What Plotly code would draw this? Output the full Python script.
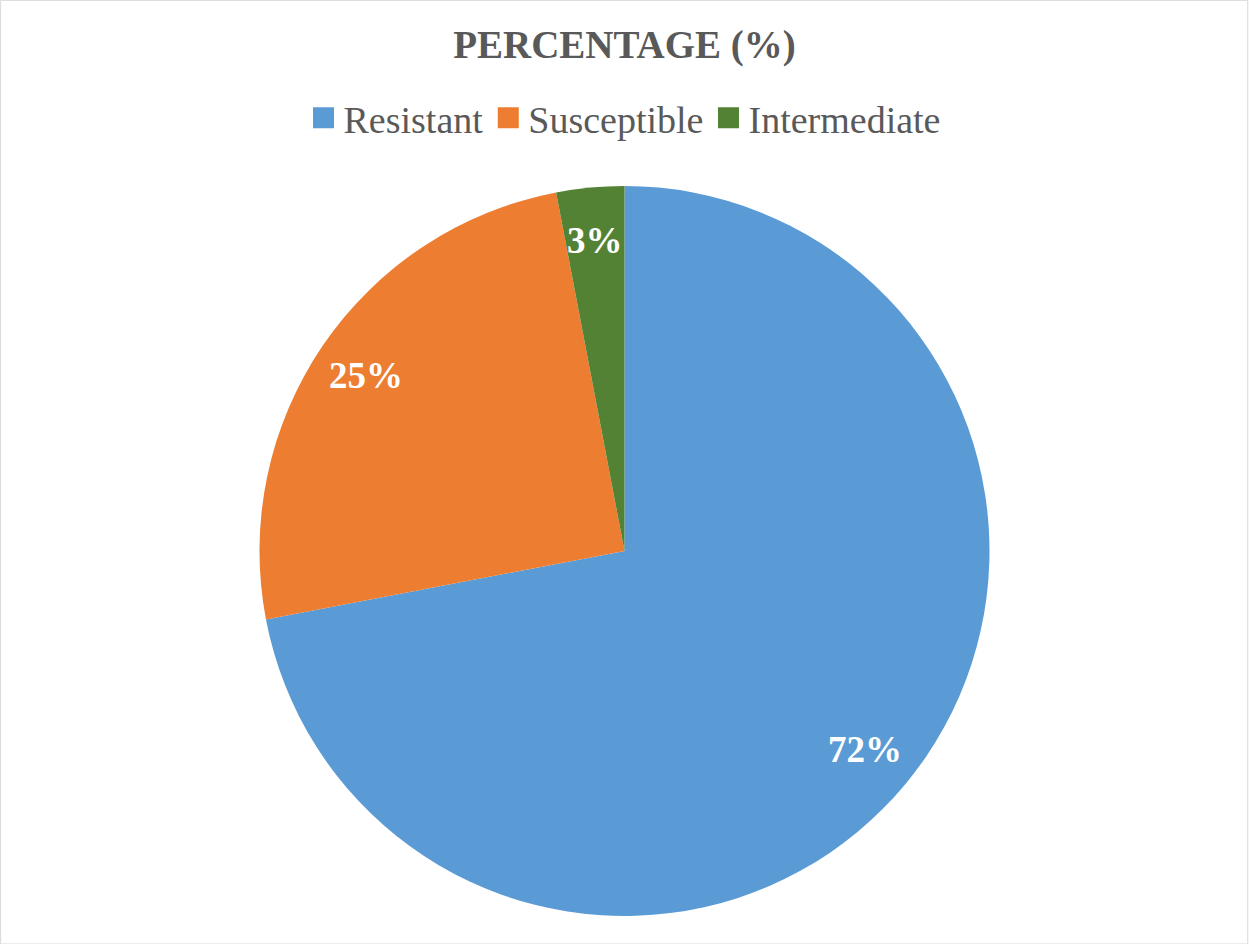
import math
import plotly.graph_objects as go

# Resistance profile shares (percent)
categories = ["Resistant", "Susceptible", "Intermediate"]
values = [72, 25, 3]
colors = ["#5B9BD5", "#ED7D31", "#548235"]

W, H = 1249, 944
M_T, M_B, M_L, M_R = 186, 28, 0, 0
plot_w = W - M_L - M_R
plot_h = H - M_T - M_B
radius_px = min(plot_w, plot_h) / 2
LABEL_R = 0.855  # data labels sit near the outer edge of each slice

SERIF = "Liberation Serif, Times New Roman, serif"
GREY = "#595959"

fig = go.Figure()
fig.add_trace(
    go.Pie(
        labels=categories,
        values=values,
        sort=False,
        direction="clockwise",
        rotation=0,
        marker=dict(colors=colors, line=dict(color="white", width=0)),
        textinfo="none",
        hoverinfo="label+value",
        showlegend=False,
    )
)

# Legend entries drawn as square markers so the keys are full size
for name, col in zip(categories, colors):
    fig.add_trace(
        go.Scatter(
            x=[None], y=[None], mode="markers", name=name,
            marker=dict(symbol="square", size=16, color=col,
                        line=dict(color=col, width=5)),
            showlegend=True, hoverinfo="skip",
        )
    )

# Percentage labels placed at each slice's mid-angle
total = sum(values)
start = 0.0
for v in values:
    mid = (start + v / 2) / total * 2 * math.pi
    start += v
    dx = LABEL_R * radius_px * math.sin(mid)
    dy = LABEL_R * radius_px * math.cos(mid)
    fig.add_annotation(
        x=0.5 + dx / plot_w, y=0.5 + dy / plot_h,
        xref="paper", yref="paper",
        text=f"<b>{v}%</b>", showarrow=False,
        xanchor="center", yanchor="middle",
        font=dict(family=SERIF, size=37, color="white"),
    )

fig.add_shape(
    type="rect",
    xref="paper", yref="paper",
    x0=0.0005, x1=0.999,
    y0=-M_B / plot_h, y1=1 + M_T / plot_h - 0.0005,
    line=dict(color="#D9D9D9", width=1),
    layer="below",
)

fig.update_layout(
    width=W,
    height=H,
    margin=dict(t=M_T, b=M_B, l=M_L, r=M_R),
    paper_bgcolor="white",
    plot_bgcolor="white",
    xaxis=dict(visible=False),
    yaxis=dict(visible=False),
    title=dict(
        text="<b>PERCENTAGE (%)</b>",
        x=0.5,
        xanchor="center",
        y=1 - 44 / H,
        yanchor="middle",
        font=dict(family=SERIF, size=39, color=GREY),
    ),
    legend=dict(
        orientation="h",
        x=0.5,
        xanchor="center",
        y=1 - 118 / H,
        yref="container",
        yanchor="middle",
        itemsizing="trace",
        itemwidth=30,
        font=dict(family=SERIF, size=38, color=GREY),
        itemclick=False,
    ),
)

fig.write_html("out.html")
